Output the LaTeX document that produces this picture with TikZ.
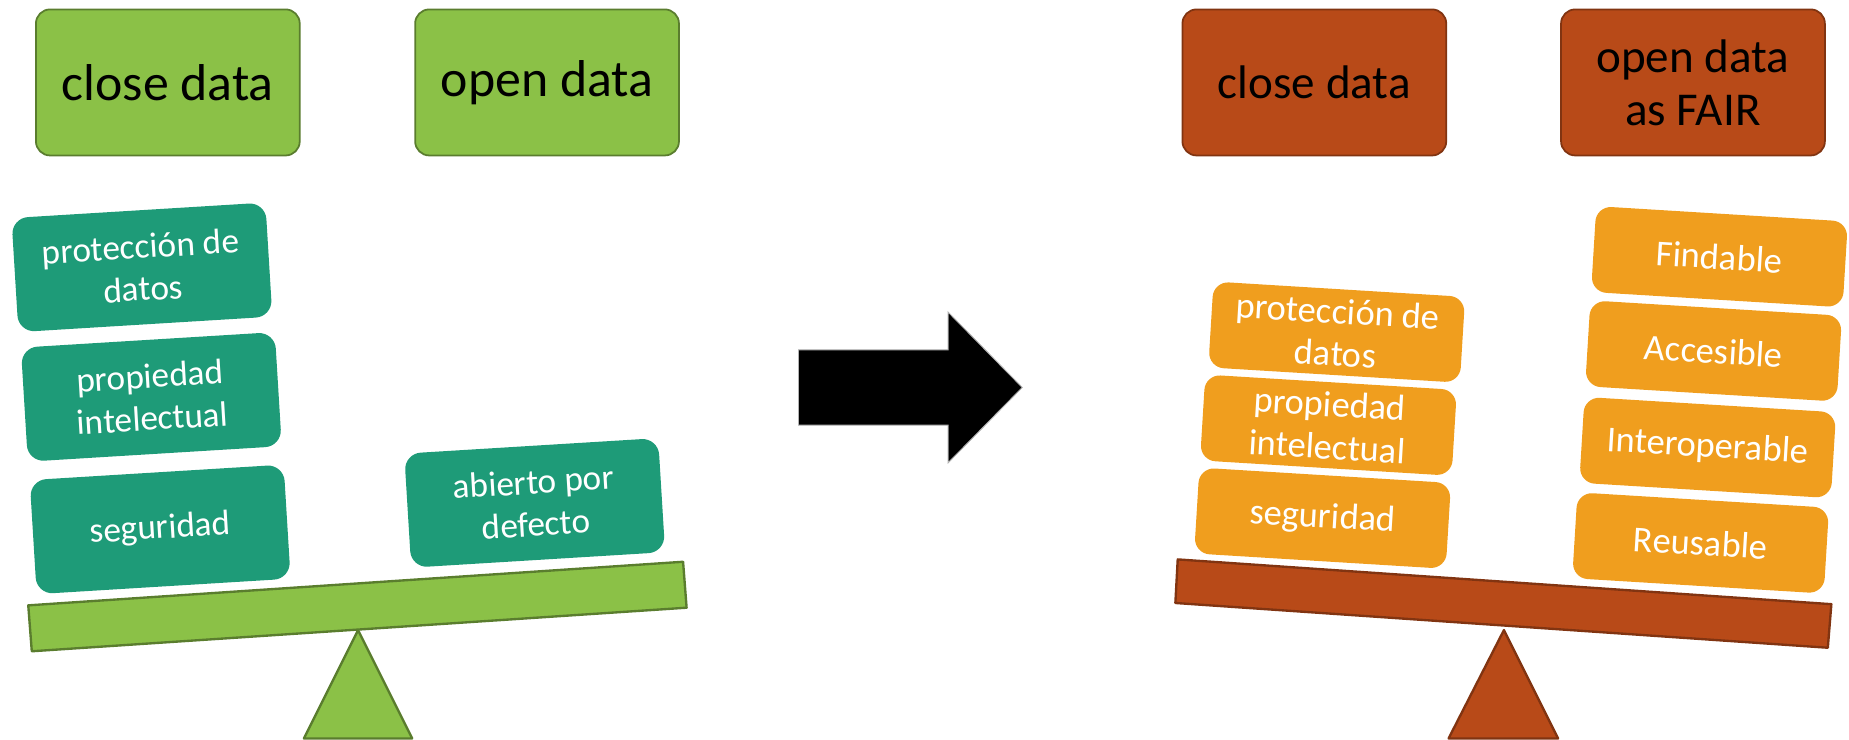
\documentclass[tikz,border=0pt]{standalone}
\usepackage{fontspec}
\setmainfont{Carlito}
\definecolor{mygreen}{RGB}{139,193,71}
\colorlet{mygreenline}{mygreen!65!black}
\definecolor{myteal}{RGB}{30,155,120}
\definecolor{myrust}{RGB}{184,74,24}
\colorlet{myrustline}{myrust!70!black}
\definecolor{myorange}{RGB}{240,158,30}

\begin{document}
\begin{tikzpicture}[x=1pt,y=-1pt]
\useasboundingbox (0,0) rectangle (1570,628);
\tikzset{TopBox/.style ={line width=1.5pt, rounded corners=12pt, minimum width=224pt, minimum height=124pt, inner sep=0, align=center}}
\tikzset{TopGreen/.style ={TopBox, draw=mygreenline, fill=mygreen, font=\fontsize{44}{46}\selectfont}}
\tikzset{TopRust/.style ={TopBox, draw=myrustline, fill=myrust, font=\fontsize{40}{45}\selectfont}}
\tikzset{TealBox/.style ={fill=myteal, text=white, rounded corners=14pt, minimum width=216pt, minimum height=97pt, inner sep=0, align=center, rotate=3.5, font=\fontsize{30}{36}\selectfont}}
\tikzset{OrangeBox/.style ={fill=myorange, text=white, rounded corners=13pt, minimum width=214pt, minimum height=73pt, inner sep=0, align=center, rotate=-3.5, font=\fontsize{31}{36}\selectfont}}
\tikzset{PlankGreen/.style ={draw=mygreenline, fill=mygreen, line width=2pt, line join=round}}
\tikzset{PlankRust/.style ={draw=myrustline, fill=myrust, line width=2pt, line join=round}}
% left balance
\node[TopGreen] (closeL) at (142.5,70) {close data};
\node[TopGreen] (openL) at (464.5,70) {open data};
\node[TealBox] (protL) at (120.5,227) {protección de\\datos};
\node[TealBox] (propL) at (128.5,337) {propiedad\\intelectual};
\node[TealBox] (segL) at (136,449.5) {seguridad};
\node[TealBox] (abiertoL) at (454,427) {abierto por\\defecto};
\draw[PlankGreen] (24,514) -- (580,477) -- (583,516) -- (27,553) -- cycle;
\draw[PlankGreen] (304,535) -- (350,627) -- (258,627) -- cycle;
% arrow
\filldraw[fill=black, draw=gray!60, line width=0.8pt] (678,297) -- (805,297) -- (805,265) -- (868,329) -- (805,393) -- (805,361) -- (678,361) -- cycle;
% right balance
\node[TopRust] (closeR) at (1116,70) {close data};
\node[TopRust] (openR) at (1437.5,70) {open data\\as FAIR};
\node[OrangeBox] (protR) at (1135,282) {protección de\\datos};
\node[OrangeBox] (propR) at (1128,361) {propiedad\\intelectual};
\node[OrangeBox] (segR) at (1123,440) {seguridad};
\node[OrangeBox] (findR) at (1460,218) {Findable};
\node[OrangeBox] (accR) at (1455,298) {Accesible};
\node[OrangeBox] (interR) at (1450,380) {Interoperable};
\node[OrangeBox] (reuR) at (1444,461) {Reusable};
\draw[PlankRust] (1000,475) -- (1555,513) -- (1552,550) -- (998,512) -- cycle;
\draw[PlankRust] (1277,535) -- (1323,627) -- (1230,627) -- cycle;
\end{tikzpicture}
\end{document}
